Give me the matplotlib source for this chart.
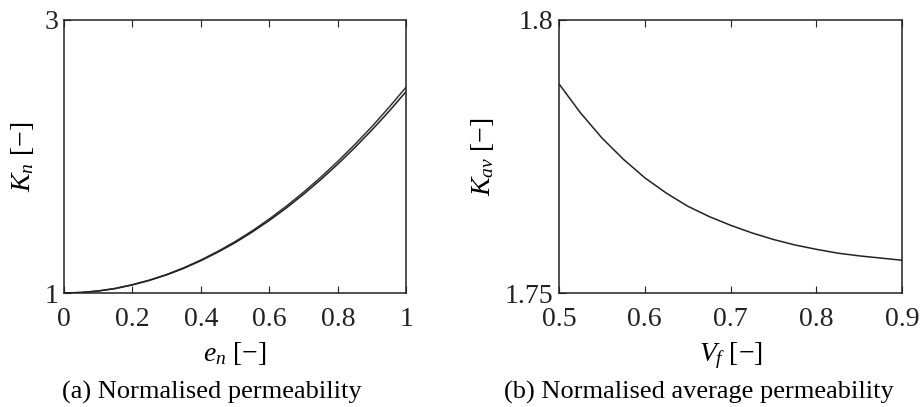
import matplotlib.pyplot as plt

plt.rcParams['font.family'] = ['Liberation Serif', 'DejaVu Serif']
plt.rcParams['mathtext.fontset'] = 'custom'
plt.rcParams['mathtext.rm'] = 'Liberation Serif'
plt.rcParams['mathtext.it'] = 'Liberation Serif:italic'

# (a) normalised permeability, two nearly overlapping curves
e_n = [0.0, 0.05, 0.1, 0.15, 0.2, 0.25, 0.3, 0.35, 0.4, 0.45, 0.5,
       0.55, 0.6, 0.65, 0.7, 0.75, 0.8, 0.85, 0.9, 0.95, 1.0]
K_n_upper = [1.000, 1.004, 1.015, 1.034, 1.061, 1.095, 1.136, 1.185, 1.242, 1.306, 1.377,
             1.456, 1.543, 1.637, 1.739, 1.848, 1.965, 2.089, 2.221, 2.362, 2.510]
K_n_lower = [1.000, 1.004, 1.015, 1.033, 1.060, 1.093, 1.133, 1.181, 1.237, 1.300, 1.369,
             1.447, 1.532, 1.624, 1.724, 1.831, 1.945, 2.067, 2.196, 2.333, 2.478]

# (b) normalised average permeability
V_f = [0.5, 0.525, 0.55, 0.575, 0.6, 0.625, 0.65, 0.675, 0.7,
       0.725, 0.75, 0.775, 0.8, 0.825, 0.85, 0.875, 0.9]
K_av = [1.7883, 1.7830, 1.7784, 1.7745, 1.7711, 1.7683, 1.7659, 1.7640, 1.7624,
        1.7610, 1.7598, 1.7588, 1.7580, 1.7573, 1.7568, 1.7564, 1.7560]

fig = plt.figure(figsize=(9.23, 4.07), dpi=100)
ax1 = fig.add_axes([0.0693, 0.280, 0.371, 0.671])
ax2 = fig.add_axes([0.6056, 0.280, 0.372, 0.671])

ax1.plot(e_n, K_n_upper, color='#333333', lw=1.1)
ax1.plot(e_n, K_n_lower, color='#222222', lw=1.1)
ax1.set_xlim(0, 1)
ax1.set_ylim(1, 3)
ax1.set_xticks([0, 0.2, 0.4, 0.6, 0.8, 1])
ax1.set_xticklabels(['0', '0.2', '0.4', '0.6', '0.8', '1'])
ax1.set_yticks([1, 3])
ax1.set_xlabel(r'$e_n$ [$-$]', labelpad=6)
ax1.set_ylabel(r'$K_n$ [$-$]', labelpad=6)

ax2.plot(V_f, K_av, color='#222222', lw=1.1)
ax2.set_xlim(0.5, 0.9)
ax2.set_ylim(1.75, 1.8)
ax2.set_xticks([0.5, 0.6, 0.7, 0.8, 0.9])
ax2.set_yticks([1.75, 1.8])
ax2.set_yticklabels(['1.75', '1.8'])
ax2.set_xlabel(r'$V_f$ [$-$]', labelpad=6)
ax2.set_ylabel(r'$K_{av}$ [$-$]', labelpad=6)

for ax in (ax1, ax2):
    for s in ax.spines.values():
        s.set_linewidth(1.1)
        s.set_color('#222222')
    ax.tick_params(direction='in', length=5, width=0.8, top=True, right=False,
                   labelsize=20, colors='#222222')
    ax.tick_params(axis='x', pad=10)
    ax.tick_params(axis='y', pad=4)
    ax.xaxis.label.set_size(20)
    ax.yaxis.label.set_size(20)

fig.text(0.230, 0.02, '(a) Normalised permeability', ha='center', fontsize=19)
fig.text(0.757, 0.02, '(b) Normalised average permeability', ha='center', fontsize=19)

fig.savefig('out.png', dpi=100)
